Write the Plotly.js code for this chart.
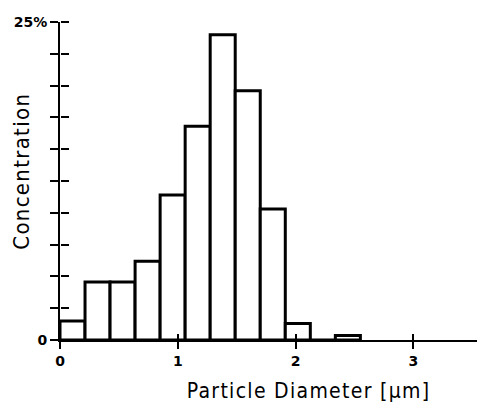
<!DOCTYPE html>
<html>
<head>
<meta charset="utf-8">
<script src="https://cdn.plot.ly/plotly-3.0.1.min.js"></script>
<style>
html,body{margin:0;padding:0;background:#fff;}
#chart{width:477px;height:402px;}
#chart .annotation-text{letter-spacing:1.3px;}
#chart g.annotation:nth-of-type(2) .annotation-text{letter-spacing:1.9px;}
</style>
</head>
<body>
<div id="chart"></div>
<script>
// Data
const binEdges = [0, 0.2125, 0.425, 0.6375, 0.85, 1.0625, 1.275, 1.4875, 1.7, 1.9125, 2.125, 2.3375, 2.55];
const concentration = [1.5, 4.55, 4.55, 6.2, 11.4, 16.8, 24.0, 19.6, 10.3, 1.3, 0, 0.35];
const yTickVals = [0, 2.5, 5, 7.5, 10, 12.5, 15, 17.5, 20, 22.5, 25];
const yTickText = ['0', '', '', '', '', '', '', '', '', '', '25%'];
const xTickVals = [0, 1, 2, 3];
const xTickText = ['0', '1', '2', '3'];
const xTitle = 'Particle Diameter [µm]';
const yTitle = 'Concentration';

const centers = concentration.map((_, i) => (binEdges[i] + binEdges[i + 1]) / 2);
const widths = concentration.map((_, i) => binEdges[i + 1] - binEdges[i]);

const font = 'DejaVu Sans, Liberation Sans, sans-serif';
const titleFont = 'DejaVu Sans Condensed, DejaVu Sans, sans-serif';

const traces = [
  {
    type: 'bar',
    x: centers,
    y: concentration,
    width: widths,
    marker: {color: '#ffffff', line: {color: '#000000', width: 3}},
    hoverinfo: 'skip',
    showlegend: false
  },
  {
    type: 'scatter', mode: 'markers', x: [0.5], y: [10], xaxis: 'x2', yaxis: 'y2',
    marker: {opacity: 0}, hoverinfo: 'skip', showlegend: false
  }
];

const layout = {
  width: 477, height: 402,
  margin: {l: 60, r: 0, t: 22, b: 62},
  paper_bgcolor: '#ffffff', plot_bgcolor: '#ffffff',
  font: {family: font, color: '#000000', size: 14},
  bargap: 0,
  xaxis: {
    range: [0, 3.54], showgrid: false, zeroline: false,
    showline: true, linecolor: '#000', linewidth: 2,
    tickmode: 'array', tickvals: xTickVals, ticktext: xTickText,
    ticks: 'outside', ticklen: 7, tickwidth: 2, tickcolor: '#000',
    tickfont: {size: 14, family: font, weight: 'bold'}
  },
  yaxis: {
    range: [0, 25], showgrid: false, zeroline: false,
    showline: true, linecolor: '#000', linewidth: 2,
    tickmode: 'array', tickvals: yTickVals, ticktext: yTickText,
    ticks: 'outside', ticklen: 8, tickwidth: 2, tickcolor: '#000',
    tickfont: {size: 14, family: font, weight: 'bold'}
  },
  xaxis2: {
    overlaying: 'x', side: 'top', anchor: 'free', position: 0,
    range: [0, 3.54], showgrid: false, zeroline: false,
    showline: false, tickmode: 'array', tickvals: xTickVals, showticklabels: false,
    ticks: 'outside', ticklen: 6, tickwidth: 2, tickcolor: '#000'
  },
  yaxis2: {
    overlaying: 'y', side: 'right', anchor: 'free', position: 0,
    range: [0, 25], showgrid: false, zeroline: false,
    showline: false, tickmode: 'array', tickvals: yTickVals, showticklabels: false,
    ticks: 'outside', ticklen: 8, tickwidth: 2, tickcolor: '#000'
  },
  annotations: [
    {text: xTitle, xref: 'paper', yref: 'paper', x: (308 - 60) / 417, y: 0, yshift: -51,
     xanchor: 'center', yanchor: 'middle', showarrow: false, font: {size: 21, family: titleFont}},
    {text: yTitle, xref: 'paper', yref: 'paper', x: 0, xshift: -39, y: (339.5 - 171) / 317.5,
     xanchor: 'center', yanchor: 'middle', textangle: -90, showarrow: false, font: {size: 22, family: titleFont}}
  ]
};

Plotly.newPlot('chart', traces, layout, {staticPlot: true, displayModeBar: false});
</script>
</body>
</html>
